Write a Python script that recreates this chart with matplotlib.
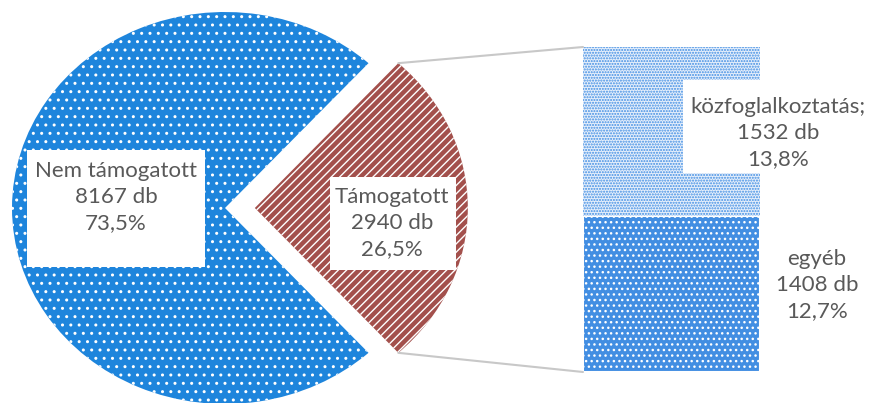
import numpy as np
import matplotlib.pyplot as plt
from matplotlib.patches import ConnectionPatch, Rectangle

# data
main_labels = ['Nem támogatott', 'Támogatott']
main_values = [8167, 2940]
main_pct = ['73,5%', '26,5%']
sub_labels = ['egyéb', 'közfoglalkoztatás;']
sub_values = [1408, 1532]
sub_pct = ['12,7%', '13,8%']

plt.rcParams['font.family'] = ['Lato', 'DejaVu Sans']
plt.rcParams['hatch.linewidth'] = 1.0

W, H = 872, 403
fig = plt.figure(figsize=(W / 100, H / 100), dpi=100)
ax = fig.add_axes([0, 0, 1, 1])

total = sum(main_values)
start = 360 * main_values[1] / total / 2
wedges, _ = ax.pie(main_values, radius=1, center=(0, 0), startangle=start,
                   explode=[0, 0.14], colors=['#1e85dc', '#a3504c'],
                   wedgeprops=dict(linewidth=0, edgecolor='white'))
wedges[0].set_hatch('..')
wedges[1].set_hatch('////')

# pie centre at pixel (225, 208), slightly stretched sideways
cx, cy, ry, rx = 225, 208, 196, 213
ax.set_aspect('auto')
ax.set_xlim(-cx / rx, (W - cx) / rx)
ax.set_ylim((cy - H) / ry, cy / ry)
ax.axis('off')

# stacked bar for the "Támogatott" breakdown
bx = fig.add_axes([583 / W, 1 - 372 / H, 177 / W, (372 - 47) / H])
sub_total = sum(sub_values)
bx.bar(0, sub_values[0], width=1, color='#428ee2', edgecolor='white',
       linewidth=1.5, hatch='...')
bx.bar(0, sub_values[1], bottom=sub_values[0], width=1, color='#e6effb',
       edgecolor='#3f8de3', linewidth=0, hatch='......')
bx.set_xlim(-0.5, 0.5)
bx.set_ylim(0, sub_total)
bx.axis('off')

# connector lines
w = wedges[1]
for th, yb in [(w.theta2, sub_total), (w.theta1, 0)]:
    px = w.center[0] + w.r * np.cos(np.radians(th))
    py = w.center[1] + w.r * np.sin(np.radians(th))
    con = ConnectionPatch(xyA=(px, py), coordsA=ax.transData,
                          xyB=(-0.5, yb), coordsB=bx.transData,
                          color='#c8c8c8', lw=1.5)
    fig.add_artist(con)

# white label boxes (pixel rectangles: x0, y0, x1, y1)
for x0, y0, x1, y1 in [(27, 150, 205, 267), (330, 177, 456, 270),
                       (683, 80, 872, 173)]:
    fig.add_artist(Rectangle((x0 / W, 1 - y1 / H), (x1 - x0) / W,
                             (y1 - y0) / H, transform=fig.transFigure,
                             facecolor='white', edgecolor='none'))

txt = '#595959'
kw = dict(ha='center', va='center', fontsize=16, color=txt, linespacing=1.38)
fig.text(116 / W, 1 - 197 / H,
         f'{main_labels[0]}\n{main_values[0]} db\n{main_pct[0]}', **kw)
fig.text(392 / W, 1 - 223 / H,
         f'{main_labels[1]}\n{main_values[1]} db\n{main_pct[1]}', **kw)
fig.text(778 / W, 1 - 133 / H,
         f'{sub_labels[1]}\n{sub_values[1]} db\n{sub_pct[1]}', **kw)
fig.text(817 / W, 1 - 285 / H,
         f'{sub_labels[0]}\n{sub_values[0]} db\n{sub_pct[0]}', **kw)

fig.savefig('out.png', dpi=100, facecolor='white')
